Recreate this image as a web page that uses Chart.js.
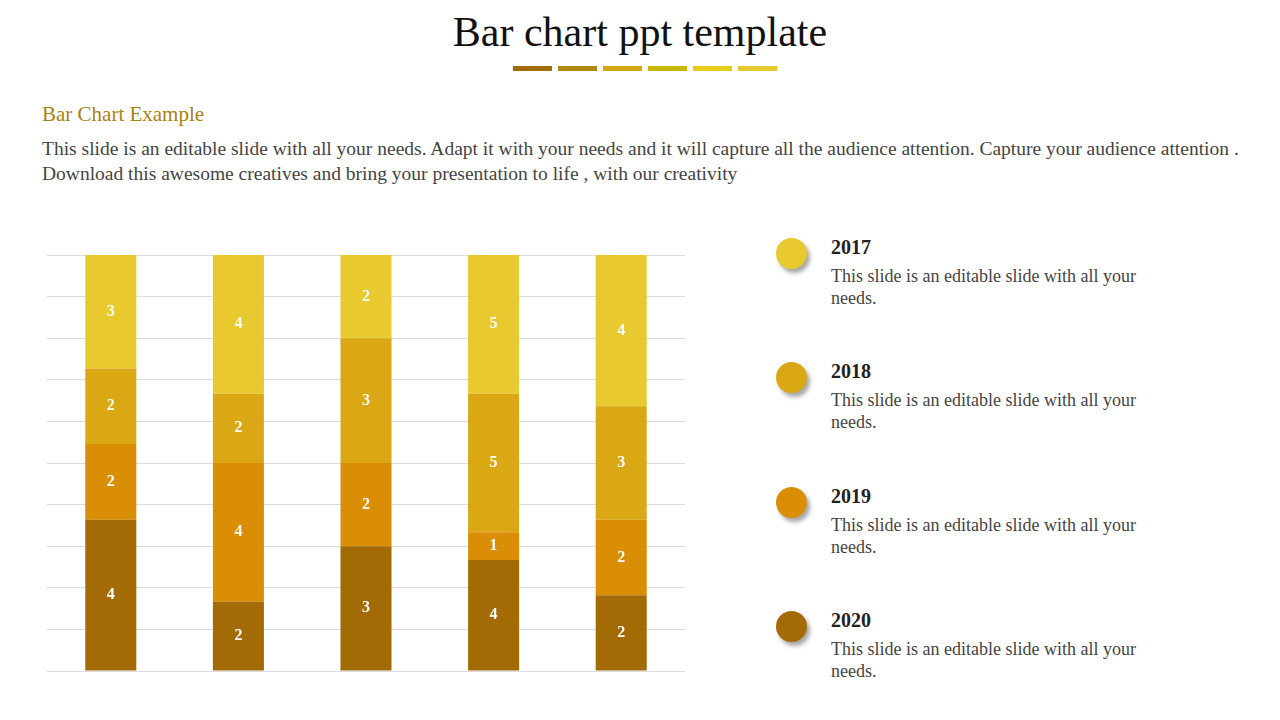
<!DOCTYPE html>
<html><head><meta charset="utf-8">
<script src="https://cdn.jsdelivr.net/npm/chart.js@4"></script>
<style>
body{margin:0;width:1280px;height:720px;background:#fff;font-family:"Liberation Serif","DejaVu Serif",serif;position:relative;overflow:hidden}
.t{position:absolute;left:0;width:1280px;top:8px;text-align:center;font-size:42px;color:#111}
.dash{position:absolute;top:66px;height:5px;width:39px}
.st{position:absolute;left:42px;top:102px;font-size:21px;color:#A8820F}
.p{position:absolute;left:42px;top:136px;width:1210px;font-size:19.5px;line-height:25px;color:#444}
#wrap{position:absolute;left:47px;top:254px;width:638px;height:418px}
.lg{position:absolute;left:776px}
.dot{position:absolute;left:0;top:0;width:31px;height:31px;border-radius:50%;box-shadow:3px 4px 4px rgba(0,0,0,.35)}
.yr{position:absolute;left:55px;top:-2px;font-weight:bold;font-size:20px;color:#222}
.ds{position:absolute;left:55px;top:27px;width:340px;font-size:18px;line-height:22px;color:#444}
</style></head><body>
<div class="t">Bar chart ppt template</div>
<div class="dash" style="left:513px;background:#A36B06"></div>
<div class="dash" style="left:558px;background:#B08A10"></div>
<div class="dash" style="left:603px;background:#D4A810"></div>
<div class="dash" style="left:648px;background:#C8B806"></div>
<div class="dash" style="left:693px;background:#E6CC18"></div>
<div class="dash" style="left:738px;background:#E8C830"></div>
<div class="st">Bar Chart Example</div>
<div class="p">This slide is an editable slide with all your needs. Adapt it with your needs and it will capture all the audience attention. Capture your audience attention . Download this awesome creatives and bring your presentation to life , with our creativity</div>
<div id="wrap"><canvas id="c"></canvas></div>
<div id="legend"></div>
<script>
const categories=["A","B","C","D","E"];
const s2020=[4,2,3,4,2];
const s2019=[2,4,2,1,2];
const s2018=[2,2,3,5,3];
const s2017=[3,4,2,5,4];
const seriesNames=["2020","2019","2018","2017"];
const colors=["#A36B06","#D98E06","#DAA815","#E8C930"];
const raw=[s2020,s2019,s2018,s2017];
const totals=categories.map((_,i)=>raw.reduce((a,s)=>a+s[i],0));
const datasets=raw.map((s,k)=>({label:seriesNames[k],raw:s,data:s.map((v,i)=>v/totals[i]*100),backgroundColor:colors[k],barPercentage:0.4,categoryPercentage:1}));
const labelPlugin={id:'lbl',afterDatasetsDraw(ch){const c=ch.ctx;c.save();c.fillStyle='#fff';c.font='bold 16px "Liberation Serif",serif';c.textAlign='center';c.textBaseline='middle';
ch.data.datasets.forEach((d,k)=>{ch.getDatasetMeta(k).data.forEach((b,i)=>{c.fillText(d.raw[i],b.x,(b.y+b.base)/2);});});c.restore();}};
new Chart(document.getElementById('c'),{type:'bar',data:{labels:categories,datasets},
options:{responsive:true,maintainAspectRatio:false,animation:false,layout:{padding:{top:1,bottom:1}},
plugins:{legend:{display:false},tooltip:{enabled:false}},
scales:{x:{stacked:true,display:false},y:{stacked:true,min:0,max:100,ticks:{display:false,stepSize:10},border:{display:false},grid:{color:'#dcdcdc',drawTicks:false}}}},plugins:[labelPlugin]});
const lg=document.getElementById('legend');
const order=[3,2,1,0];const tops=[238,362,487,611];
order.forEach((k,j)=>{lg.innerHTML+=`<div class="lg" style="top:${tops[j]}px"><div class="dot" style="background:${colors[k]}"></div><div class="yr">${seriesNames[k]}</div><div class="ds">This slide is an editable slide with all your needs.</div></div>`;});
</script>
</body></html>
